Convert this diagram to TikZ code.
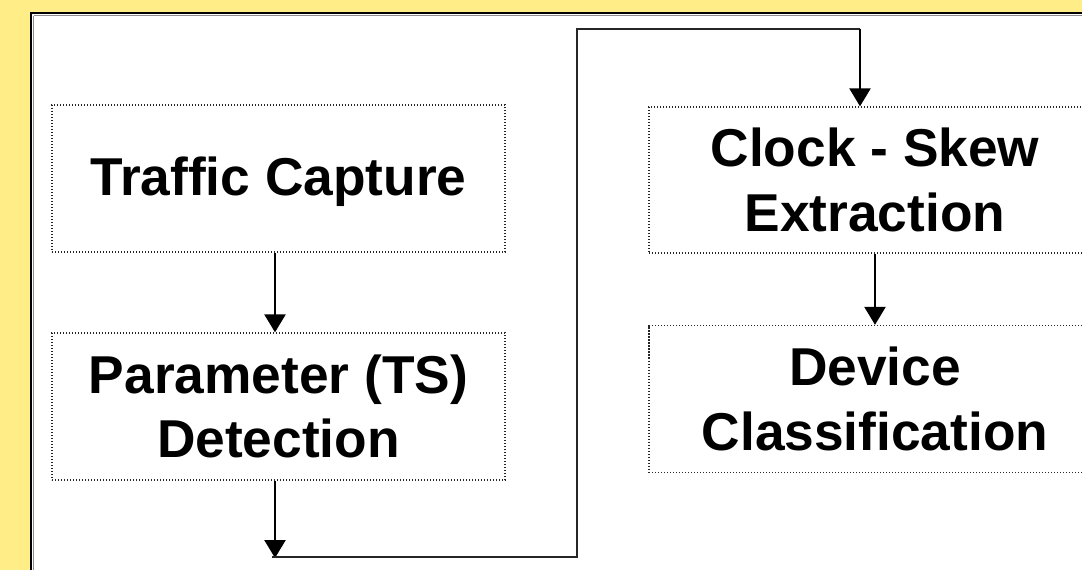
\documentclass[tikz,border=0pt]{standalone}
\usepackage{fontspec}
\setmainfont{Liberation Sans}
\usetikzlibrary{arrows.meta}
\definecolor{bgyellow}{HTML}{FFEE88}
\tikzset{
  stepbox/.style={draw=black!85, line width=1.3pt, dash pattern=on 1.4pt off 1.6pt,
    inner sep=0pt, align=center, font=\fontsize{53.3}{64.5}\selectfont\bfseries},
  arr/.style={draw=black, line width=2.4pt, -{Triangle[width=21pt,length=18pt]}},
  loopline/.style={draw=black!85, line width=1.2pt}
}
\begin{document}
\begin{tikzpicture}[x=1pt,y=-1pt]
\useasboundingbox (0,0) rectangle (1082,570);
\fill[bgyellow] (0,0) rectangle (1082,570);
\fill[white] (31,13) rectangle (1120,620);
\draw[black!45, line width=1pt] (33.5,15.5) -- (1120,15.5);
\draw[black!45, line width=1pt] (33.5,15.5) -- (33.5,620);
\draw[black, line width=2pt] (31,620) -- (31,13) -- (1120,13);

\node[stepbox, minimum width=453pt, minimum height=147pt] (tc) at (278.5,178.5) {\raisebox{-3pt}[\height][\depth]{Traffic Capture}};
\node[stepbox, minimum width=453pt, minimum height=147pt] (pd) at (278.5,406.5) {Parameter (TS)\\Detection};
\node[stepbox, minimum width=452pt, minimum height=146pt] (cs) at (875,180) {Clock - Skew\\Extraction};
\node[stepbox, minimum width=452pt, minimum height=147pt] (dc) at (875,399) {Device\\Classification};

\coordinate (b1) at (275,558);
\coordinate (b0) at (272,557);
\coordinate (b2) at (577,557);
\coordinate (t1) at (577,29);
\coordinate (t2) at (860,29);

\draw[arr] (tc.south -| b1) -- (pd.north -| b1);
\draw[arr] (pd.south -| b1) -- (b1);
\draw[loopline] (b0) -- (b2) -- (t1) -- (t2);
\draw[arr] (t2) -- (t2 |- cs.north);
\draw[arr] (cs.south) -- (dc.north);
\end{tikzpicture}
\end{document}
